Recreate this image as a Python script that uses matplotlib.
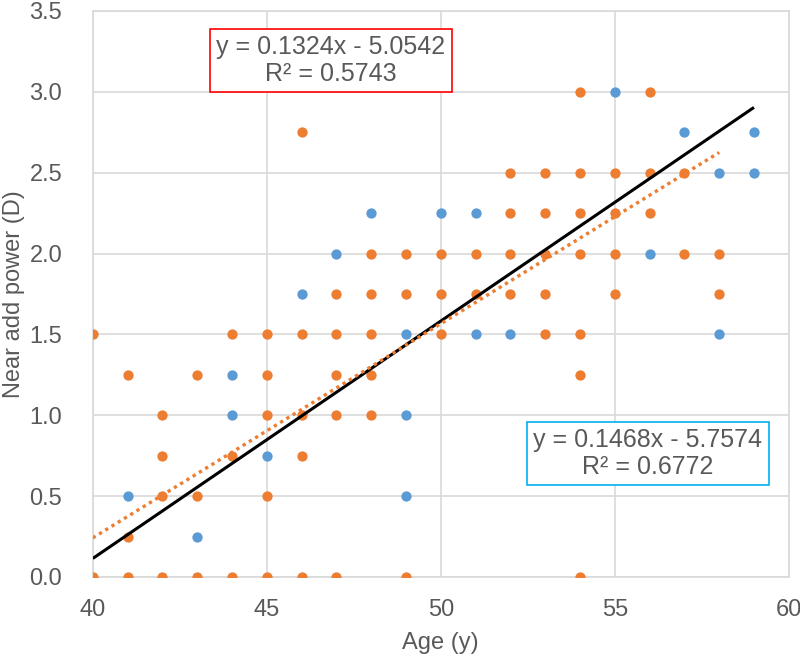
import matplotlib
matplotlib.use("Agg")
import matplotlib.pyplot as plt
import numpy as np

plt.rcParams['font.family'] = ['Liberation Sans', 'DejaVu Sans']

# Blue series (visible points)
blue_age = [41, 43, 44, 44, 45, 46, 47, 48, 49, 49, 49, 50, 51, 51, 52, 55, 56, 57, 58, 58, 59, 59]
blue_add = [0.5, 0.25, 1.0, 1.25, 0.75, 1.75, 2.0, 2.25, 0.5, 1.0, 1.5, 2.25, 1.5, 2.25, 1.5, 3.0, 2.0, 2.75, 1.5, 2.5, 2.5, 2.75]

# Orange series
orange_age = ([40]*2 + [41]*3 + [42]*4 + [43]*3 + [44]*3 + [45]*5 + [46]*5 + [47]*5 + [48]*5 +
              [49]*3 + [50]*3 + [51]*2 + [52]*4 + [53]*5 + [54]*7 + [55]*4 + [56]*3 + [57]*2 + [58]*2)
orange_add = [0, 1.5,
              0, 0.25, 1.25,
              0, 0.5, 0.75, 1.0,
              0, 0.5, 1.25,
              0, 0.75, 1.5,
              0, 0.5, 1.0, 1.25, 1.5,
              0, 0.75, 1.0, 1.5, 2.75,
              0, 1.0, 1.25, 1.5, 1.75,
              1.0, 1.25, 1.5, 1.75, 2.0,
              0, 1.75, 2.0,
              1.5, 1.75, 2.0,
              1.75, 2.0,
              1.75, 2.0, 2.25, 2.5,
              1.5, 1.75, 2.0, 2.25, 2.5,
              0, 1.25, 1.5, 2.0, 2.25, 2.5, 3.0,
              1.75, 2.0, 2.25, 2.5,
              2.25, 2.5, 3.0,
              2.0, 2.5,
              1.75, 2.0]

# Trendline coefficients (from the chart labels) and x-ranges
blue_fit = [0.1468, -5.7574]
blue_fit_range = [40, 59]
orange_fit = [0.1324, -5.0542]
orange_fit_range = [40, 58]

blue_label = "y = 0.1468x - 5.7574\nR² = 0.6772"
orange_label = "y = 0.1324x - 5.0542\nR² = 0.5743"

BLUE = "#5B9BD5"
ORANGE = "#ED7D31"
TXT = "#595959"
GRID = "#D9D9D9"

fig = plt.figure(figsize=(8, 6.57), dpi=100)
ax = fig.add_axes([0.116, 0.1218, 0.870, 0.8615])

ax.scatter(blue_age, blue_add, s=55, color=BLUE, zorder=3, linewidths=0)
ax.scatter(orange_age, orange_add, s=55, color=ORANGE, zorder=4, linewidths=0)

bx = np.array(blue_fit_range, dtype=float)
ax.plot(bx, blue_fit[0]*bx + blue_fit[1], color="black", lw=2.2, zorder=5, solid_capstyle='butt')
ox = np.array(orange_fit_range, dtype=float)
ax.plot(ox, orange_fit[0]*ox + orange_fit[1], color=ORANGE, lw=2.4, linestyle=(0, (1, 1.2)), zorder=6)

ax.set_xlim(40, 60)
ax.set_ylim(0, 3.5)
ax.set_xticks(np.arange(40, 61, 5))
ax.set_yticks(np.arange(0, 3.51, 0.5))
ax.set_yticklabels([f"{v:.1f}" for v in np.arange(0, 3.51, 0.5)])
ax.grid(True, color=GRID, lw=1.2, zorder=0)
ax.set_axisbelow(True)
for s in ax.spines.values():
    s.set_color(GRID)
    s.set_linewidth(1.2)
ax.tick_params(length=0, labelsize=17, colors=TXT)
ax.tick_params(axis='y', pad=22)
ax.tick_params(axis='x', pad=16)

ax.set_xlabel("Age (y)", fontsize=17, color=TXT, labelpad=8)
ax.set_ylabel("Near add power (D)", fontsize=17, color=TXT, labelpad=3)

ax.text(46.84, 3.195, orange_label, fontsize=18, color=TXT, ha='center', va='center',
        linespacing=1.15, zorder=7,
        bbox=dict(boxstyle='square,pad=0.25', fc='white', ec='#FF0000', lw=1.2))
ax.text(55.95, 0.765, blue_label, fontsize=18, color=TXT, ha='center', va='center',
        linespacing=1.15, zorder=7,
        bbox=dict(boxstyle='square,pad=0.25', fc='white', ec='#00B0F0', lw=1.2))

fig.savefig("out.png", dpi=100)
